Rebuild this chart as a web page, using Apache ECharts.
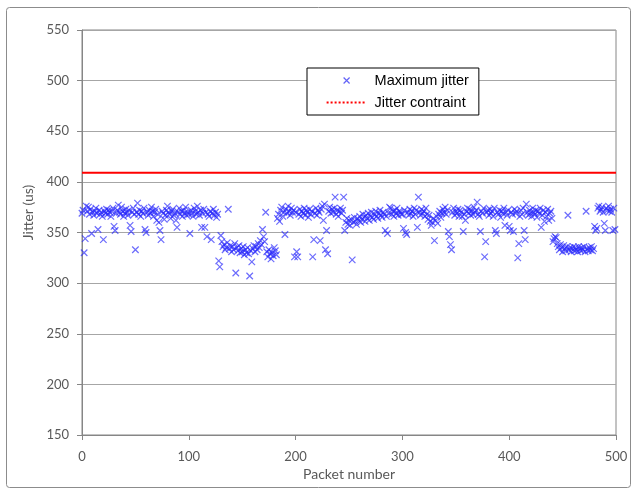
<!DOCTYPE html>
<html>
<head>
<meta charset="utf-8">
<title>Maximum jitter</title>
<script src="https://cdn.jsdelivr.net/npm/echarts@6/dist/echarts.min.js"></script>
<style>
  html, body { margin: 0; padding: 0; background: #fff; }
  #chart { width: 636px; height: 493px; }
</style>
</head>
<body>
<div id="chart"></div>
<script>
// packet range and jitter constraint (us)
var packetMin = 0;
var packetMax = 500;
var jitterConstraint = 409;

// maximum jitter per packet (us), 100 packets per array
var jitter000 = [
  369,372,330,344,376,371,375,368,373,349,
  370,367,371,374,369,353,372,368,370,366,
  343,371,369,373,368,372,370,366,371,374,
  356,352,369,372,377,370,368,375,371,366,
  369,373,370,367,372,357,351,370,374,368,
  333,370,379,368,372,366,371,369,374,353,
  350,370,367,372,369,375,371,366,370,373,
  362,368,360,352,343,371,369,363,367,372,
  376,370,368,364,371,373,367,369,362,355,
  370,374,368,371,366,372,369,375,367,370
];
var jitter100 = [
  368,349,372,369,366,374,371,368,376,370,
  367,372,355,369,373,355,370,346,368,366,
  371,343,369,373,367,370,365,368,322,316,
  347,341,336,338,333,335,340,373,334,337,
  331,336,333,339,310,335,332,337,330,334,
  331,336,328,333,330,335,329,307,332,321,
  334,337,331,336,333,339,335,342,338,353,
  346,341,370,331,326,333,329,324,330,327,
  335,332,328,364,368,361,372,375,366,370,
  348,373,369,376,371,367,374,370,372,326
];
var jitter200 = [
  370,331,326,368,373,366,371,369,374,367,
  372,370,365,373,368,371,326,343,369,374,
  367,372,370,342,373,376,362,378,333,352,
  329,371,375,369,373,370,374,385,368,372,
  366,371,374,369,372,385,352,360,364,358,
  362,357,363,323,360,365,361,358,364,362,
  366,360,363,368,365,361,367,364,369,362,
  366,370,365,363,368,371,366,364,369,372,
  367,365,370,368,352,366,349,369,375,374,
  368,371,366,372,369,374,367,371,370,368
];
var jitter300 = [
  368,354,372,350,348,370,367,373,369,371,
  366,374,368,372,355,385,370,367,373,369,
  371,366,374,368,363,367,361,357,360,364,
  342,362,366,359,368,371,365,369,373,370,
  375,368,372,351,346,338,333,370,374,367,
  371,369,373,366,372,370,366,351,368,362,
  371,374,369,373,367,371,368,375,370,372,
  380,368,366,351,371,369,374,326,341,370,
  372,367,373,369,371,366,374,352,349,370,
  368,372,365,371,369,374,357,370,367,372
];
var jitter400 = [
  356,352,370,368,351,373,369,371,325,339,
  366,372,368,374,352,343,378,370,367,372,
  369,366,374,370,368,372,365,371,369,374,
  355,367,372,361,370,366,373,362,369,371,
  364,341,344,346,345,339,336,333,338,335,
  331,337,334,332,336,367,333,335,331,334,
  336,332,335,333,331,336,334,332,335,333,
  336,331,371,334,332,335,333,336,332,334,
  356,352,354,374,376,371,373,375,370,359,
  352,374,372,376,371,373,370,352,374,353
];

var jitterAll = jitter000.concat(jitter100, jitter200, jitter300, jitter400);
var scatterData = jitterAll.map(function(v, i) {
  return [i, v];
});
var constraintData = [
  [packetMin, jitterConstraint],
  [packetMax, jitterConstraint]
];

var axisGray = "#868686";
var labelGray = "#595959";

var chart = echarts.init(document.getElementById("chart"));
var option = {
  backgroundColor: "#fff",
  animation: false,
  graphic: [
    {
      type: "rect",
      silent: true,
      z: -10,
      shape: { x: 6.5, y: 7.5, width: 624, height: 480, r: 3 },
      style: { fill: "none", stroke: "#8c8c8c", lineWidth: 1 }
    }
  ],
  grid: {
    left: 82,
    top: 30,
    right: 20,
    bottom: 58,
    show: true,
    borderColor: axisGray,
    borderWidth: 1
  },
  legend: {
    orient: "vertical",
    left: 307,
    top: 68,
    backgroundColor: "#fff",
    borderColor: "#000",
    borderWidth: 1,
    borderRadius: 0,
    padding: [5, 10, 5, 19],
    itemWidth: 40,
    itemHeight: 10,
    itemGap: 7,
    textStyle: {
      fontFamily: "Liberation Sans",
      fontSize: 14.5,
      color: "#000",
      padding: [0, 0, 0, 3]
    },
    data: [
      {
        name: "Maximum jitter",
        icon: "path://M0,0M40,10M17,2L23,8M23,2L17,8",
        itemStyle: { color: "rgba(0,0,0,0)", borderColor: "#3c3cf5", borderWidth: 1.2 }
      },
      {
        name: "Jitter contraint",
        icon: "path://M0,0M40,10M0,4h2v2h-2zM4,4h2v2h-2zM8,4h2v2h-2zM12,4h2v2h-2zM16,4h2v2h-2zM20,4h2v2h-2zM24,4h2v2h-2zM28,4h2v2h-2zM32,4h2v2h-2zM36,4h2v2h-2z",
        itemStyle: { color: "#ff0000", borderWidth: 0 }
      }
    ]
  },
  xAxis: {
    type: "value",
    min: packetMin,
    max: packetMax,
    interval: 100,
    name: "Packet number",
    nameLocation: "middle",
    nameGap: 28,
    nameTextStyle: { fontFamily: "Lato", fontSize: 14, color: labelGray },
    axisLine: { show: true, lineStyle: { color: axisGray } },
    axisTick: { show: true, length: 5, lineStyle: { color: axisGray } },
    axisLabel: { fontFamily: "Lato", fontSize: 13, color: labelGray, margin: 15 },
    splitLine: { show: false }
  },
  yAxis: {
    type: "value",
    min: 150,
    max: 550,
    interval: 50,
    name: "Jitter (us)",
    nameLocation: "middle",
    nameGap: 43,
    nameTextStyle: {
      fontFamily: "Lato",
      fontSize: 14,
      color: labelGray,
      padding: [0, 0, 0, 40]
    },
    axisLine: { show: true, lineStyle: { color: axisGray } },
    axisTick: { show: true, length: 5, lineStyle: { color: axisGray } },
    axisLabel: { fontFamily: "Lato", fontSize: 13, color: labelGray, margin: 13 },
    splitLine: { show: true, lineStyle: { color: "#a6a6a6", width: 1 } }
  },
  series: [
    {
      name: "Maximum jitter",
      type: "scatter",
      symbol: "path://M0,0L10,10M10,0L0,10",
      symbolSize: 6.5,
      itemStyle: {
        color: "rgba(0,0,0,0)",
        borderColor: "rgba(40,40,250,0.85)",
        borderWidth: 1.2
      },
      data: scatterData,
      z: 3
    },
    {
      name: "Jitter contraint",
      type: "line",
      symbol: "none",
      color: "#ff0000",
      lineStyle: { color: "#ff0000", width: 2 },
      data: constraintData,
      z: 4
    }
  ]
};
chart.setOption(option);
</script>
</body>
</html>
